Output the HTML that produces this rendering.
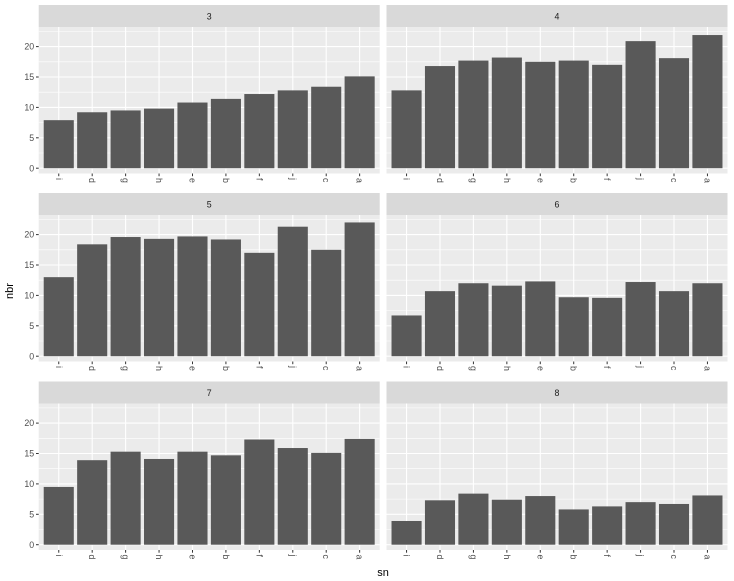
<!DOCTYPE html><html><head><style>body{margin:0;background:#fff}svg{display:block;font-family:"Liberation Sans",sans-serif}</style></head><body>
<svg id="s" width="734" height="581" xmlns="http://www.w3.org/2000/svg"></svg>
<script>
const cats=["i","d","g","h","e","b","f","j","c","a"];
const data={3:[7.9,9.2,9.5,9.8,10.8,11.4,12.2,12.8,13.4,15.1],4:[12.8,16.8,17.7,18.2,17.5,17.7,17.0,20.9,18.1,21.9],5:[13.0,18.4,19.6,19.3,19.7,19.2,17.0,21.3,17.5,22.0],6:[6.7,10.7,12.0,11.6,12.3,9.7,9.6,12.2,10.7,12.0],7:[9.5,13.9,15.3,14.1,15.3,14.7,17.3,15.9,15.1,17.4],8:[3.9,7.3,8.4,7.4,8.0,5.8,6.3,7.0,6.7,8.1]};
let h='';
const xs=[38.7,386.5],W=341,tops=[27,215,403.5],H=146.5;
[3,4,5,6,7,8].forEach((k,idx)=>{
 const x0=xs[idx%2],t=tops[Math.floor(idx/2)],b=t+H;
 const y0=b-5.3,sc=6.08,Y=v=>y0-v*sc,bw=W/10.2;
 h+=`<rect x="${x0}" y="${t-22}" width="${W}" height="22" fill="#d9d9d9"/>`;
 h+=`<text x="${x0+W/2}" y="${t-7.5}" font-size="8.8" fill="#1a1a1a" text-anchor="middle">${k}</text>`;
 h+=`<rect x="${x0}" y="${t}" width="${W}" height="${H}" fill="#ebebeb"/>`;
 for(let v=2.5;v<23;v+=5)h+=`<line x1="${x0}" x2="${x0+W}" y1="${Y(v)}" y2="${Y(v)}" stroke="#fff" stroke-width="0.55"/>`;
 for(let v=0;v<=20;v+=5){h+=`<line x1="${x0}" x2="${x0+W}" y1="${Y(v)}" y2="${Y(v)}" stroke="#fff" stroke-width="1.1"/>`;
  if(idx%2==0){h+=`<line x1="${x0-2.7}" x2="${x0}" y1="${Y(v)}" y2="${Y(v)}" stroke="#333" stroke-width="1"/><text x="${x0-4.5}" y="${Y(v)+3.1}" font-size="8.8" fill="#4d4d4d" text-anchor="end">${v}</text>`;}}
 cats.forEach((c,i)=>{const cx=x0+(i+0.6)*bw;
  h+=`<line x1="${cx}" x2="${cx}" y1="${t}" y2="${b}" stroke="#fff" stroke-width="1.1"/>`;});
 cats.forEach((c,i)=>{const cx=x0+(i+0.6)*bw,v=data[k][i];
  h+=`<rect x="${cx-bw*0.45}" y="${Y(v)}" width="${bw*0.9}" height="${v*sc}" fill="#595959"/>`;
  h+=`<line x1="${cx}" x2="${cx}" y1="${b}" y2="${b+2.7}" stroke="#333" stroke-width="1"/>`;
  h+=`<text transform="translate(${cx-3},${b+4.5}) rotate(90)" font-size="8.8" fill="#4d4d4d" text-anchor="start">${c}</text>`;});
});
h+=`<text transform="translate(13,291) rotate(-90)" font-size="11" fill="#000" text-anchor="middle">nbr</text>`;
h+=`<text x="383" y="576" font-size="11" fill="#000" text-anchor="middle">sn</text>`;
document.getElementById('s').innerHTML=h;
</script></body></html>
